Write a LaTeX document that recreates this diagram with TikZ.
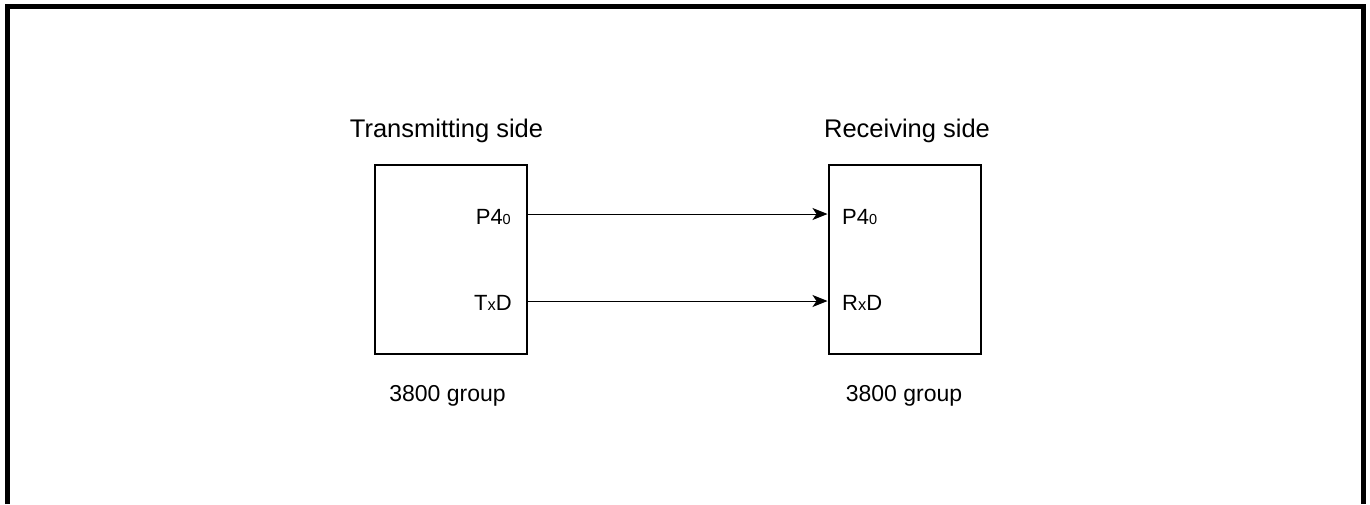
\documentclass[tikz,border=0pt]{standalone}
\usepackage{fontspec}
\setmainfont{Liberation Sans}
\usetikzlibrary{arrows.meta}
\begin{document}
\begin{tikzpicture}[x=1pt,y=-1pt,
  chip/.style={draw,line width=2pt,minimum width=152pt,minimum height=189pt,inner sep=0pt},
  title/.style={font=\fontsize{25.5}{29}\selectfont,anchor=base,inner sep=0pt},
  group/.style={font=\fontsize{23}{27}\selectfont,anchor=base,inner sep=0pt},
  pin/.style={font=\fontsize{22}{25}\selectfont,inner sep=0pt},
  sig/.style={line width=1pt,-{Stealth[length=15pt,width=12pt,inset=4pt]}},
  frame/.style={line width=5pt}]
\useasboundingbox (0,0) rectangle (1370,504);
\draw[frame] (7.5,504) -- (7.5,6.5) -- (1363.5,6.5) -- (1363.5,504);
\node[chip] (tx) at (451,259.5) {};
\node[chip] (rx) at (904.5,259.5) {};
\node[title] (ttx) at (446.5,137) {Transmitting side};
\node[title] (trx) at (907,137) {Receiving side};
\node[group] (gtx) at (447.5,401) {3800 group};
\node[group] (grx) at (904,401) {3800 group};
\newcommand{\sbz}{{\fontsize{14.5}{14.5}\selectfont 0}}
\newcommand{\smx}{{\fontsize{16.5}{16.5}\selectfont x}}
\node[pin,anchor=base east] (ltxp) at (511,224) {P4\sbz};
\node[pin,anchor=base east] (ltxd) at (512,310) {T\smx D};
\node[pin,anchor=base west] (lrxp) at (842,224) {P4\sbz};
\node[pin,anchor=base west] (lrxd) at (842,310) {R\smx D};
\coordinate (y1) at (0,214);
\coordinate (y2) at (0,301);
\draw[sig] (tx.east |- y1) -- (rx.west |- y1);
\draw[sig] (tx.east |- y2) -- (rx.west |- y2);
\end{tikzpicture}
\end{document}
